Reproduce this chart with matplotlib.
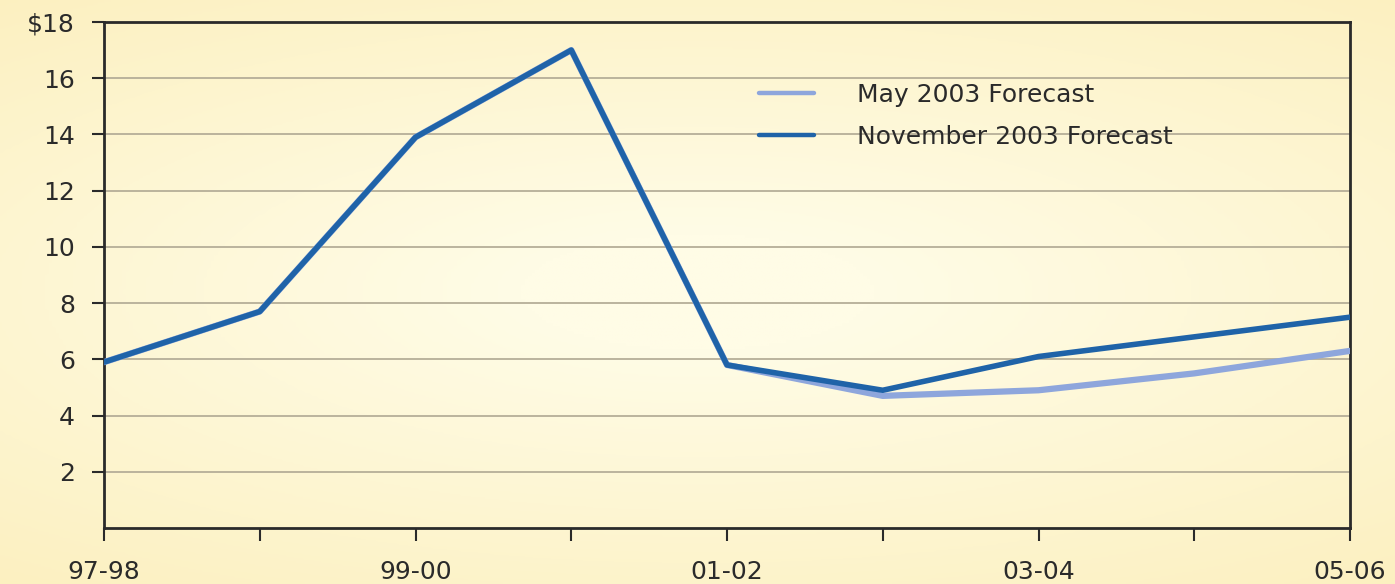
import numpy as np
import matplotlib.pyplot as plt
from matplotlib.colors import LinearSegmentedColormap

plt.rcParams['font.family'] = ['DejaVu Sans']

years = ['97-98', '98-99', '99-00', '00-01', '01-02', '02-03', '03-04', '04-05', '05-06']
may_2003 = [5.9, 7.7, 13.9, 17.0, 5.8, 4.7, 4.9, 5.5, 6.3]
nov_2003 = [5.9, 7.7, 13.9, 17.0, 5.8, 4.9, 6.1, 6.8, 7.5]
shown_labels = ['97-98', '', '99-00', '', '01-02', '', '03-04', '', '05-06']
y_ticks = [2, 4, 6, 8, 10, 12, 14, 16, 18]
y_labels = ['2', '4', '6', '8', '10', '12', '14', '16', '$18']

fig = plt.figure(figsize=(13.95, 5.84), dpi=100)

# soft cream backdrop, lighter toward the middle
bg = fig.add_axes([0, 0, 1, 1], zorder=-10)
yy, xx = np.mgrid[-1:1:200j, -1:1:400j]
r = np.sqrt((xx * 0.8) ** 2 + (yy * 1.0) ** 2)
cmap = LinearSegmentedColormap.from_list('cream', ['#fffce6', '#fcf0c0'])
bg.imshow(r, cmap=cmap, aspect='auto', extent=[0, 1, 0, 1], vmin=0.2, vmax=1.3)
bg.axis('off')

ax = fig.add_axes([104 / 1395, 1 - 528 / 584, (1350 - 104) / 1395, (528 - 22) / 584])
ax.patch.set_alpha(0)

x = np.arange(len(years))
ax.plot(x, may_2003, color='#8ea6dc', lw=4.5, solid_capstyle='round',
        solid_joinstyle='round', label='May 2003 Forecast', zorder=3)
ax.plot(x, nov_2003, color='#1f63a8', lw=4.0, solid_capstyle='round',
        solid_joinstyle='round', label='November 2003 Forecast', zorder=4)

ax.set_xlim(0, len(years) - 1)
ax.set_ylim(0, 18)
ax.set_yticks(y_ticks)
ax.set_yticklabels(y_labels, fontsize=18, color='#2a2a2a')
ax.set_xticks(x)
ax.set_xticklabels(shown_labels, fontsize=18, color='#2a2a2a')

ax.yaxis.grid(True, color='#b5ae98', lw=1.3)
ax.set_axisbelow(True)
for s in ax.spines.values():
    s.set_color('#2a2a2a')
    s.set_linewidth(2)
ax.tick_params(axis='y', direction='out', length=9, width=1.5, color='#2a2a2a', pad=12)
ax.tick_params(axis='x', direction='out', length=9, width=1.5, color='#2a2a2a', pad=14)

leg = ax.legend(loc='upper left', bbox_to_anchor=(0.508, 0.924), frameon=False,
                fontsize=18, handlelength=2.2, handletextpad=1.7, labelspacing=0.72)
for line in leg.get_lines():
    line.set_linewidth(3.2)
for t in leg.get_texts():
    t.set_color('#2a2a2a')

fig.savefig('out.png', dpi=100)
